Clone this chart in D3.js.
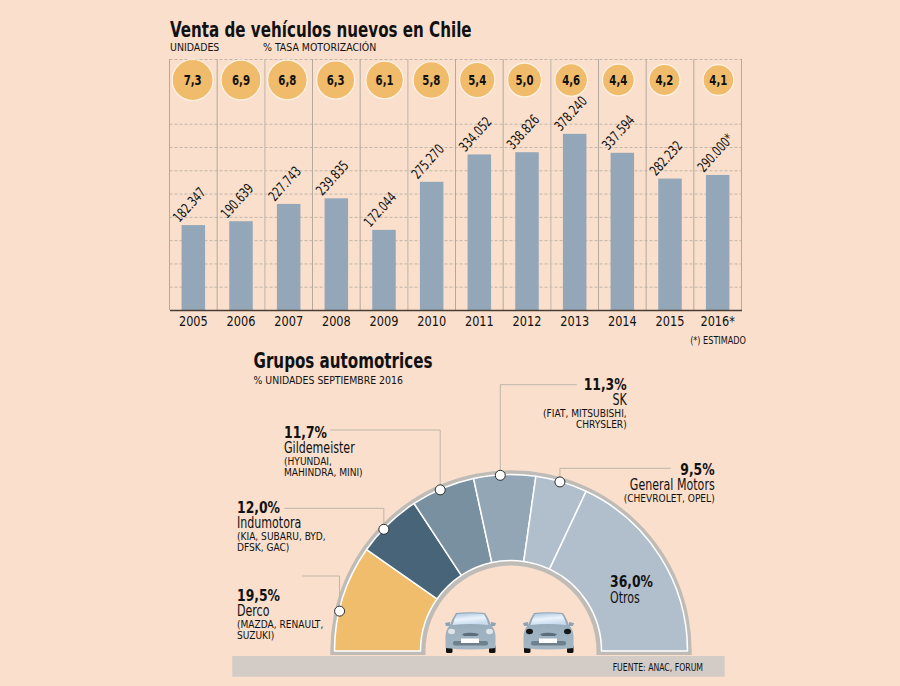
<!DOCTYPE html>
<html>
<head>
<meta charset="utf-8">
<script src="https://cdnjs.cloudflare.com/ajax/libs/d3/7.8.5/d3.min.js"></script>
<style>
  html, body { margin: 0; padding: 0; background: #f9dfcc; }
  svg { display: block; }
  text { font-family: "DejaVu Sans Condensed", "DejaVu Sans", sans-serif; fill: #111; }
</style>
</head>
<body>
<svg id="chart" width="900" height="686"></svg>
<script>
const years = ["2005", "2006", "2007", "2008", "2009", "2010", "2011", "2012", "2013", "2014", "2015", "2016*"];
const units = [182347, 190639, 227743, 239835, 172044, 275270, 334052, 338826, 378240, 337594, 282232, 290000];
const unitSuffix = ["", "", "", "", "", "", "", "", "", "", "", "*"];
const rates = [7.3, 6.9, 6.8, 6.3, 6.1, 5.8, 5.4, 5.0, 4.6, 4.4, 4.2, 4.1];
const gridValues = [50000, 100000, 150000, 200000, 250000, 300000, 350000, 400000];

const groups = ["Derco", "Indumotora", "Gildemeister", "SK", "General Motors", "Otros"];
const shares = [19.5, 12.0, 11.7, 11.3, 9.5, 36.0];
const brands = [
    ["(MAZDA, RENAULT,", "SUZUKI)"],
    ["(KIA, SUBARU, BYD,", "DFSK, GAC)"],
    ["(HYUNDAI,", "MAHINDRA, MINI)"],
    ["(FIAT, MITSUBISHI,", "CHRYSLER)"],
    ["(CHEVROLET, OPEL)"],
    []
];

const locale = d3.formatLocale({ decimal: ",", thousands: ".", grouping: [3], currency: ["", ""] });
const fmtUnits = locale.format(",d");
const fmtRate = locale.format(".1f");

const svg = d3.select("#chart");

// the original face is narrower than DejaVu Condensed, so squeeze each text by a factor
function squeeze(sel, factor) {
    sel.each(function() {
        const len = this.getComputedTextLength();
        d3.select(this)
            .attr("textLength", len * factor)
            .attr("lengthAdjust", "spacingAndGlyphs");
    });
    return sel;
}

function addText(x, y, str, size, weight, anchor, factor) {
    const t = svg.append("text")
        .attr("x", x)
        .attr("y", y)
        .attr("font-size", size)
        .attr("font-weight", weight || "normal")
        .attr("text-anchor", anchor || "start")
        .text(str);
    return squeeze(t, factor || 1);
}

// ---- titles
addText(170, 36.5, "Venta de vehículos nuevos en Chile", 20.5, "bold", "start", 0.82);
addText(170, 50.5, "UNIDADES", 11, "normal", "start", 0.95);
addText(263, 50.5, "% TASA MOTORIZACIÓN", 11, "normal", "start", 0.95);
addText(253.5, 368, "Grupos automotrices", 20.5, "bold", "start", 0.82);
addText(253.5, 384, "% UNIDADES SEPTIEMBRE 2016", 11, "normal", "start", 0.945);
addText(746, 344, "(*) ESTIMADO", 10.5, "normal", "end", 0.86);

// ---- bars
const slot = d3.scaleBand().domain(years).range([169.5, 741.5]);
const y = d3.scaleLinear().domain([0, 539000]).range([310, 59]);
const r = d3.scaleSqrt().domain([0, 7.3]).range([0, 20.5]);
const cx = function(i) { return slot(years[i]) + slot.bandwidth() / 2; };

// horizontal dashes come from a left axis with full-width ticks
const grid = svg.append("g")
    .attr("transform", "translate(169.5,0)")
    .call(d3.axisLeft(y).tickValues(gridValues.concat([y.domain()[1]])).tickSize(-572).tickFormat(""));
grid.select(".domain").remove();
grid.selectAll("line")
    .attr("stroke", "#c2b5a9")
    .attr("stroke-width", 1)
    .attr("stroke-dasharray", "3,2");

// vertical separators, every third one drawn heavier and paler
const separators = years.map(function(d) { return slot(d); }).concat([slot.range()[1]]);
const heavy = [2, 5, 8];
svg.selectAll(".sep")
    .data(separators)
    .enter().append("line")
    .attr("class", "sep")
    .attr("x1", function(d) { return d; })
    .attr("x2", function(d) { return d; })
    .attr("y1", y.range()[1])
    .attr("y2", y.range()[0])
    .attr("stroke", function(d, i) { return heavy.includes(i) ? "#d0c2b5" : "#b3a99f"; })
    .attr("stroke-width", function(d, i) { return heavy.includes(i) ? 1.5 : 1; });

svg.selectAll(".bar")
    .data(units)
    .enter().append("rect")
    .attr("class", "bar")
    .attr("x", function(d, i) { return cx(i) - 11.75; })
    .attr("y", function(d) { return y(d); })
    .attr("width", 23.5)
    .attr("height", function(d) { return y(0) - y(d); })
    .attr("fill", "#94a7b8");

squeeze(svg.selectAll(".val")
    .data(units)
    .enter().append("text")
    .attr("class", "val")
    .attr("font-size", 14)
    .attr("transform", function(d, i) {
        return "translate(" + (cx(i) - 14) + "," + (y(d) - 2) + ") rotate(-48)";
    })
    .text(function(d, i) { return fmtUnits(d) + unitSuffix[i]; }), 0.78);

// year axis
const xAxis = svg.append("g")
    .attr("transform", "translate(0,310)")
    .call(d3.axisBottom(slot).tickSize(0).tickPadding(6));
xAxis.select(".domain").attr("stroke", "#4a3d34").attr("stroke-width", 1.5);
squeeze(xAxis.selectAll("text")
    .attr("font-size", 14)
    .style("font-family", "\"DejaVu Sans Condensed\", sans-serif")
    .attr("fill", "#111"), 0.9);

// rate bubbles; they drift a little left of the slot centre towards the right
const bubbleNudge = [-0.7, 0, -1.3, -0.7, 0.6, -0.3, -2.1, -2.5, -3.5, -4, -5.6, 0.7];
const bubble = svg.selectAll(".bubble")
    .data(rates)
    .enter().append("g")
    .attr("class", "bubble")
    .attr("transform", function(d, i) { return "translate(" + (cx(i) + bubbleNudge[i]) + ",80)"; });
bubble.append("circle")
    .attr("r", function(d) { return r(d); })
    .attr("fill", "#f0bc6b")
    .attr("stroke", "#fdf3e6")
    .attr("stroke-width", 1.2);
squeeze(bubble.append("text")
    .attr("text-anchor", "middle")
    .attr("dy", "0.36em")
    .attr("font-size", 14.5)
    .attr("font-weight", "bold")
    .text(function(d) { return fmtRate(d); }), 0.78);

// ---- half ring
const ringX = 511, ringY = 651;
const sliceColors = ["#f0bd6d", "#486478", "#78909f", "#93a6b5", "#b0bfcb", "#b1bfcc"];

const ring = svg.append("g").attr("transform", "translate(" + ringX + "," + ringY + ")");

const gray = d3.arc().innerRadius(85.5).outerRadius(180.7).startAngle(-Math.PI / 2).endAngle(Math.PI / 2);
ring.append("path").attr("d", gray()).attr("fill", "#bfbcb8");
ring.append("rect").attr("x", -180.7).attr("y", 0).attr("width", 95.2).attr("height", 4).attr("fill", "#bfbcb8");
ring.append("rect").attr("x", 85.5).attr("y", 0).attr("width", 95.2).attr("height", 4).attr("fill", "#bfbcb8");

const pie = d3.pie().sort(null).startAngle(-Math.PI / 2).endAngle(Math.PI / 2);
const arcs = pie(shares);
const arc = d3.arc().innerRadius(90.5).outerRadius(176.5);

ring.selectAll(".slice")
    .data(arcs)
    .enter().append("path")
    .attr("class", "slice")
    .attr("d", arc)
    .attr("fill", function(d, i) { return sliceColors[i]; })
    .attr("stroke", "#fff")
    .attr("stroke-width", 1.5)
    .attr("stroke-linejoin", "round");

// callouts: elbow up from a dot on the rim to the label height
const dotAlong = [0.373, 0.4, 0.455, 0.43, 0.47];
const elbowY = [576, 508.3, 430, 384.7, 468.3];
const elbowEnd = [302.3, 284.3, 330, 576.7, 670.7];
const rimR = 176;

dotAlong.forEach(function(t, i) {
    const a = arcs[i].startAngle + t * (arcs[i].endAngle - arcs[i].startAngle);
    const dx = ringX + rimR * Math.sin(a);
    const dy = ringY - rimR * Math.cos(a);
    svg.append("path")
        .attr("d", d3.line()([[elbowEnd[i], elbowY[i]], [dx, elbowY[i]], [dx, dy]]))
        .attr("fill", "none")
        .attr("stroke", "#bfb5aa")
        .attr("stroke-width", 1);
    svg.append("circle")
        .attr("cx", dx)
        .attr("cy", dy)
        .attr("r", 5)
        .attr("fill", "#fff")
        .attr("stroke", "#2b2b2b")
        .attr("stroke-width", 1);
});

// labels
const labelX = [237, 237, 284, 626.7, 714.7, 610];
const labelY = [600.7, 513, 437.7, 390, 475, 587.3];
const labelAnchor = ["start", "start", "start", "end", "end", "start"];

groups.forEach(function(name, i) {
    addText(labelX[i], labelY[i], fmtRate(shares[i]) + "%", 15.5, "bold", labelAnchor[i], 0.89);
    addText(labelX[i], labelY[i] + 15.3, name, 15, "normal", labelAnchor[i], 0.82);
    brands[i].forEach(function(line, j) {
        addText(labelX[i], labelY[i] + 26.8 + j * 11.5, line, 10.5, "normal", labelAnchor[i], 0.96);
    });
});

// ---- road band
svg.append("rect")
    .attr("x", 232.3)
    .attr("y", 656)
    .attr("width", 492.4)
    .attr("height", 20.7)
    .attr("fill", "#d2cbc6");
addText(703, 670.5, "FUENTE: ANAC, FORUM", 10.5, "normal", "end", 0.82);

// ---- cars
const defs = svg.append("defs");
const glass = defs.append("linearGradient").attr("id", "glass").attr("x1", 0).attr("y1", 0).attr("x2", 0.3).attr("y2", 1);
glass.append("stop").attr("offset", 0).attr("stop-color", "#a9c4dc");
glass.append("stop").attr("offset", 0.55).attr("stop-color", "#eaf3fb");
glass.append("stop").attr("offset", 1).attr("stop-color", "#c8dcee");
const paint = defs.append("linearGradient").attr("id", "paint").attr("x1", 0).attr("y1", 0).attr("x2", 0).attr("y2", 1);
paint.append("stop").attr("offset", 0).attr("stop-color", "#8ea3b4");
paint.append("stop").attr("offset", 0.5).attr("stop-color", "#9db1c0");
paint.append("stop").attr("offset", 1).attr("stop-color", "#a4b6c4");

function drawCar(left, lampColor) {
    const g = svg.append("g").attr("transform", "translate(" + left + ",612)");
    g.append("rect").attr("x", 1).attr("y", 33).attr("width", 6.5).attr("height", 8).attr("rx", 1.5).attr("fill", "#111");
    g.append("rect").attr("x", 44).attr("y", 33).attr("width", 6.5).attr("height", 8).attr("rx", 1.5).attr("fill", "#111");
    g.append("path").attr("d", "M0,11 L5,10 L5,14 L1,14 Z M51,11 L46,10 L46,14 L50,14 Z").attr("fill", "#8ea3b4");
    g.append("path")
        .attr("d", "M11,1 Q25,-0.5 40,1 Q44,7 46,13 Q50,17 50.5,24 L50.5,36 Q25,39 0.5,36 L0.5,24 Q1,17 5,13 Q7,7 11,1 Z")
        .attr("fill", "url(#paint)");
    g.append("path")
        .attr("d", "M12,2 Q25,0.5 39,2 Q42,7 43.5,13 Q25,11 7.5,13 Q9,7 12,2 Z")
        .attr("fill", "url(#glass)");
    g.append("ellipse").attr("cx", 6.5).attr("cy", 19.5).attr("rx", 3.5).attr("ry", 2.8).attr("fill", lampColor);
    g.append("ellipse").attr("cx", 44.5).attr("cy", 19.5).attr("rx", 3.5).attr("ry", 2.8).attr("fill", lampColor);
    g.append("path").attr("d", "M17,22 Q25,19.5 34,22 L32,24 L19,24 Z").attr("fill", "#5d6d79");
    g.append("rect").attr("x", 8).attr("y", 29).attr("width", 35).attr("height", 4.5).attr("rx", 2).attr("fill", "#6f808d");
    g.append("rect").attr("x", 16).attr("y", 26.5).attr("width", 18).attr("height", 4.5).attr("fill", "#fff");
}
drawCar(445, "#dfe4e8");
drawCar(523, "#15181a");
</script>
</body>
</html>
